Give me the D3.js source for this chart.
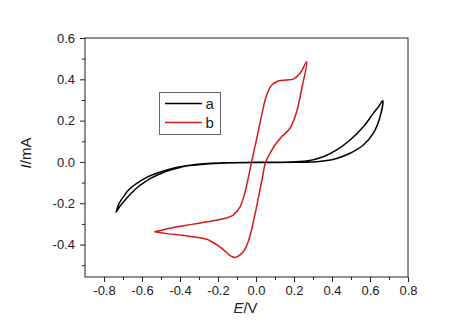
<!DOCTYPE html>
<html>
<head>
<meta charset="utf-8">
<script src="https://cdn.jsdelivr.net/npm/d3@7"></script>
<style>
  html, body { margin: 0; padding: 0; background: #fff; }
  svg { display: block; font-family: "Liberation Sans", Arial, sans-serif; }
</style>
</head>
<body>
<svg id="chart" width="474" height="331"></svg>
<script>
// Cyclic voltammograms: potential E (V) vs current I (mA)
const seriesNames = ["a", "b"];
const seriesColors = ["#000000", "#d41a1a"];

// Curve a: forward scan then return scan (closed loop)
const aE = [-0.737, -0.715, -0.69, -0.655, -0.62, -0.585, -0.55, -0.5, -0.46, -0.41, -0.36, -0.29, -0.22, -0.1, 0.05, 0.2, 0.3, 0.354, 0.425, 0.495, 0.565, 0.617, 0.653, 0.667,
            0.645, 0.617, 0.565, 0.495, 0.425, 0.354, 0.267, 0.15, 0.0, -0.15, -0.254, -0.33, -0.4, -0.46, -0.523, -0.58, -0.628, -0.67, -0.698, -0.72, -0.737];
const aI = [-0.244, -0.213, -0.185, -0.15, -0.12, -0.097, -0.077, -0.056, -0.042, -0.029, -0.019, -0.012, -0.008, -0.004, -0.003, -0.002, 0.0, 0.004, 0.017, 0.042, 0.082, 0.138, 0.219, 0.296,
            0.268, 0.235, 0.17, 0.106, 0.058, 0.025, 0.004, -0.001, -0.002, -0.004, -0.007, -0.013, -0.023, -0.036, -0.055, -0.077, -0.104, -0.135, -0.169, -0.2, -0.244];

// Curve b
const bE = [-0.535, -0.435, -0.33, -0.225, -0.163, -0.12, -0.084, -0.062, -0.041, -0.023, 0.004, 0.030, 0.056, 0.083, 0.117, 0.162, 0.196, 0.232, 0.267,
            0.241, 0.214, 0.179, 0.135, 0.100, 0.074, 0.051, 0.033, 0.012, -0.014, -0.041, -0.067, -0.093, -0.11, -0.128, -0.146, -0.163, -0.185, -0.207, -0.235, -0.259, -0.365, -0.47, -0.535];
const bI = [-0.338, -0.317, -0.301, -0.285, -0.273, -0.257, -0.217, -0.160, -0.079, 0.001, 0.114, 0.227, 0.324, 0.372, 0.392, 0.397, 0.401, 0.429, 0.485,
            0.356, 0.243, 0.163, 0.122, 0.082, 0.042, 0.001, -0.079, -0.176, -0.290, -0.386, -0.435, -0.456, -0.462, -0.458, -0.447, -0.432, -0.415, -0.400, -0.385, -0.374, -0.358, -0.347, -0.338];

const xTickValues = [-0.8, -0.6, -0.4, -0.2, 0.0, 0.2, 0.4, 0.6, 0.8];
const xTickLabels = ["-0.8", "-0.6", "-0.4", "-0.2", "0.0", "0.2", "0.4", "0.6", "0.8"];
const xMinorValues = [-0.7, -0.5, -0.3, -0.1, 0.1, 0.3, 0.5, 0.7];
const yTickValues = [0.6, 0.4, 0.2, 0.0, -0.2, -0.4];
const yTickLabels = ["0.6", "0.4", "0.2", "0.0", "-0.2", "-0.4"];
const yMinorValues = [0.5, 0.3, 0.1, -0.1, -0.3, -0.5];

const svg = d3.select("#chart");
const plot = { left: 85, top: 38, right: 408, bottom: 277 };

const x = d3.scaleLinear().domain([-0.9, 0.8]).range([plot.left, plot.right]);
const y = d3.scaleLinear().domain([-0.557, 0.6]).range([plot.bottom, plot.top]);

// Curves
const line = d3.line()
  .x(d => x(d[0]))
  .y(d => y(d[1]))
  .curve(d3.curveCatmullRom.alpha(0.5));

const curves = [d3.zip(aE, aI), d3.zip(bE, bI)];
curves.forEach((pts, i) => {
  svg.append("path")
    .attr("d", line(pts))
    .attr("fill", "none")
    .attr("stroke", seriesColors[i])
    .attr("stroke-width", 1.5)
    .attr("stroke-linejoin", "round");
});

// Axes
const axisColor = "#222";
const xAxis = d3.axisBottom(x).tickValues(xTickValues)
  .tickFormat((d, i) => xTickLabels[i]).tickSize(5).tickPadding(4);
const xMinor = d3.axisBottom(x).tickValues(xMinorValues).tickFormat("").tickSize(3);
const yAxis = d3.axisLeft(y).tickValues(yTickValues)
  .tickFormat((d, i) => yTickLabels[i]).tickSize(5).tickPadding(5);
const yMinor = d3.axisLeft(y).tickValues(yMinorValues).tickFormat("").tickSize(3);

function styleAxis(g) {
  g.select(".domain").remove();
  g.selectAll("line").attr("stroke", axisColor);
  g.selectAll("text").attr("fill", axisColor).style("font-size", "13px")
    .style("font-family", "'Liberation Sans', Arial, sans-serif");
}

svg.append("g").attr("transform", `translate(0,${plot.bottom})`).call(xAxis).call(styleAxis);
svg.append("g").attr("transform", `translate(0,${plot.bottom})`).call(xMinor).call(styleAxis);
svg.append("g").attr("transform", `translate(${plot.left},0)`).call(yAxis).call(styleAxis);
svg.append("g").attr("transform", `translate(${plot.left},0)`).call(yMinor).call(styleAxis);

// Frame
svg.append("rect")
  .attr("x", plot.left).attr("y", plot.top)
  .attr("width", plot.right - plot.left).attr("height", plot.bottom - plot.top)
  .attr("fill", "none").attr("stroke", axisColor).attr("stroke-width", 1);

// Axis titles
const xt = svg.append("text")
  .attr("x", (plot.left + plot.right) / 2 - 1).attr("y", 313)
  .attr("text-anchor", "middle").attr("fill", axisColor).style("font-size", "15px");
xt.append("tspan").style("font-style", "italic").text("E");
xt.append("tspan").text("/V");

const yt = svg.append("text")
  .attr("transform", `translate(31,153) rotate(-90)`)
  .attr("text-anchor", "middle").attr("fill", axisColor).style("font-size", "15px");
yt.append("tspan").style("font-style", "italic").text("I");
yt.append("tspan").text("/mA");

// Legend
const legend = svg.append("g");
legend.append("rect")
  .attr("x", 159.5).attr("y", 92.5).attr("width", 61).attr("height", 42)
  .attr("fill", "#fff").attr("stroke", "#666").attr("stroke-width", 1);
seriesNames.forEach((name, i) => {
  const ly = 103.5 + i * 19;
  legend.append("line")
    .attr("x1", 165).attr("x2", 202).attr("y1", ly).attr("y2", ly)
    .attr("stroke", seriesColors[i]).attr("stroke-width", 1.5);
  legend.append("text")
    .attr("x", 205.5).attr("y", ly + 5)
    .attr("fill", axisColor).style("font-size", "15px").text(name);
});
</script>
</body>
</html>
